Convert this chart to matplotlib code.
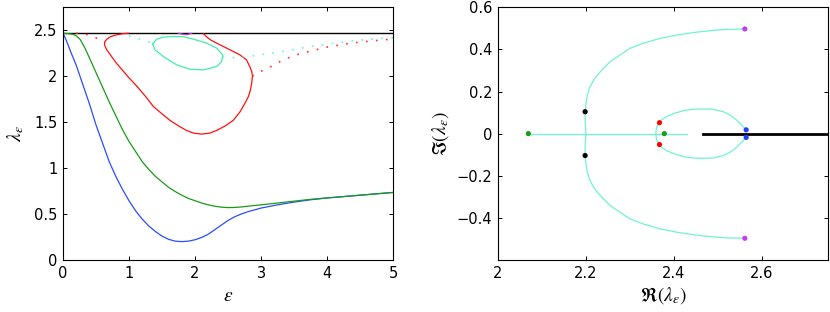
import matplotlib
matplotlib.use('Agg')
import matplotlib.pyplot as plt

plt.rcParams['font.family'] = ['DejaVu Sans']
plt.rcParams['mathtext.fontset'] = 'stix'

# ---- left panel: eigenvalue branches vs eps ----
top_eps = [0, 5]
top_lam = [2.467, 2.467]

blue_eps = [0, 0.05, 0.12, 0.2, 0.3, 0.4, 0.5, 0.6, 0.7, 0.8, 0.9, 1.0, 1.1, 1.2, 1.3, 1.4, 1.5, 1.6,
            1.7, 1.8, 1.9, 2.0, 2.1, 2.2, 2.3, 2.4, 2.5, 2.6, 2.7, 2.8, 2.9, 3.0, 3.25, 3.5, 3.75, 4.0,
            4.25, 4.5, 4.75, 5.0]
blue_lam = [2.467, 2.39, 2.26, 2.12, 1.91, 1.70, 1.47, 1.27, 1.07, 0.91, 0.77, 0.645, 0.535, 0.445,
            0.37, 0.31, 0.26, 0.225, 0.205, 0.20, 0.205, 0.22, 0.245, 0.28, 0.33, 0.38, 0.43, 0.47,
            0.50, 0.525, 0.545, 0.565, 0.60, 0.63, 0.655, 0.675, 0.69, 0.705, 0.72, 0.735]

green_eps = [0, 0.1, 0.15, 0.2, 0.26, 0.33, 0.4, 0.5, 0.6, 0.7, 0.8, 0.9, 1.0, 1.1, 1.2, 1.3, 1.4, 1.5,
             1.6, 1.7, 1.8, 1.9, 2.0, 2.1, 2.2, 2.3, 2.4, 2.5, 2.6, 2.7, 2.8, 3.0, 3.25, 3.5, 3.75, 4.0,
             4.5, 5.0]
green_lam = [2.467, 2.462, 2.455, 2.44, 2.40, 2.31, 2.20, 2.04, 1.88, 1.72, 1.57, 1.42, 1.29, 1.18,
             1.07, 0.985, 0.91, 0.85, 0.79, 0.745, 0.705, 0.67, 0.645, 0.62, 0.60, 0.585, 0.575, 0.57,
             0.572, 0.577, 0.585, 0.60, 0.62, 0.64, 0.66, 0.675, 0.705, 0.735]

red_eps = [0.99, 0.90, 0.81, 0.72, 0.66, 0.63, 0.63, 0.66, 0.73, 0.80, 0.86, 0.99, 1.12, 1.25, 1.37,
           1.50, 1.62, 1.75, 1.87, 1.98, 2.10, 2.22, 2.33, 2.46, 2.58, 2.68, 2.76, 2.81, 2.84, 2.86,
           2.87, 2.86, 2.83, 2.78, 2.68, 2.53, 2.38, 2.25, 2.18, 2.13]
red_lam = [2.467, 2.462, 2.45, 2.43, 2.40, 2.37, 2.34, 2.29, 2.22, 2.15, 2.10, 1.99, 1.89, 1.78, 1.67,
           1.59, 1.52, 1.46, 1.41, 1.38, 1.37, 1.38, 1.41, 1.46, 1.52, 1.61, 1.71, 1.78, 1.85, 1.93,
           2.00, 2.05, 2.105, 2.178, 2.232, 2.287, 2.341, 2.389, 2.425, 2.461]
red_dot_l_eps = [0.2, 0.33, 0.46, 0.55, 0.63]
red_dot_l_lam = [2.467, 2.46, 2.43, 2.40, 2.37]
red_dot_r_eps = [2.87, 2.93, 3.14, 3.34, 3.57, 3.79, 4.02, 4.37, 4.70, 5.0]
red_dot_r_lam = [2.00, 2.03, 2.10, 2.18, 2.24, 2.28, 2.32, 2.36, 2.385, 2.405]

cyan_eps = [1.359, 1.394, 1.419, 1.52, 1.672, 1.823, 1.975, 2.177, 2.328, 2.42, 2.404, 2.328, 2.126,
            1.924, 1.722, 1.52, 1.394, 1.359]
cyan_lam = [2.352, 2.38, 2.403, 2.425, 2.432, 2.429, 2.403, 2.36, 2.305, 2.232, 2.16, 2.105, 2.069,
            2.076, 2.123, 2.214, 2.287, 2.352]
cyan_dot_l_eps = [1.0, 1.14, 1.24, 1.36]
cyan_dot_l_lam = [2.44, 2.41, 2.385, 2.36]
cyan_dot_r_eps = [2.42, 2.56, 2.91, 3.26, 3.72, 4.12, 4.58, 5.0]
cyan_dot_r_lam = [2.21, 2.20, 2.225, 2.26, 2.32, 2.36, 2.40, 2.42]

mag_eps = [1.75, 1.82, 1.88, 1.95]
mag_lam = [2.467, 2.455, 2.452, 2.467]

# ---- right panel: complex plane ----
bigc_re = [2.561, 2.520, 2.482, 2.444, 2.406, 2.368, 2.330, 2.300, 2.277, 2.255, 2.236, 2.220, 2.209,
           2.203, 2.200, 2.198, 2.198, 2.199, 2.200,
           2.199, 2.198, 2.198, 2.200, 2.203, 2.209, 2.220, 2.236, 2.255, 2.277, 2.300, 2.330, 2.368,
           2.406, 2.444, 2.482, 2.520, 2.561]
bigc_im = [0.497, 0.495, 0.489, 0.480, 0.468, 0.452, 0.429, 0.405, 0.373, 0.342, 0.302, 0.263, 0.223,
           0.184, 0.144, 0.104, 0.065, 0.025, 0.0,
           -0.025, -0.065, -0.104, -0.144, -0.184, -0.223, -0.263, -0.302, -0.342, -0.373, -0.405,
           -0.429, -0.452, -0.468, -0.480, -0.489, -0.495, -0.497]

loop_re = [2.564, 2.554, 2.542, 2.527, 2.512, 2.489, 2.467, 2.444, 2.421, 2.402, 2.383, 2.372, 2.367,
           2.361, 2.359, 2.359,
           2.359, 2.361, 2.367, 2.372, 2.383, 2.402, 2.421, 2.444, 2.467, 2.489, 2.512, 2.527, 2.542,
           2.554, 2.564]
loop_im = [0.017, 0.041, 0.065, 0.089, 0.104, 0.116, 0.117, 0.116, 0.109, 0.097, 0.081, 0.065, 0.052,
           0.033, 0.01, 0.0,
           -0.01, -0.033, -0.052, -0.065, -0.081, -0.097, -0.109, -0.116, -0.117, -0.116, -0.104, -0.089,
           -0.065, -0.041, -0.017]

seg_re = [2.069, 2.43]
seg_im = [0, 0]
ess_re = [2.467, 2.75]
ess_im = [0, 0]

pts_re = [2.069, 2.378, 2.198, 2.198, 2.367, 2.367, 2.564, 2.564, 2.561, 2.561]
pts_im = [0, 0, 0.104, -0.104, 0.052, -0.052, 0.018, -0.018, 0.497, -0.497]
pts_col = ['#14a014', '#14a014', 'k', 'k', 'r', 'r', '#2040ff', '#2040ff', '#c040f0', '#c040f0']

CYAN = '#6ff3d2'
DOT = (0, (1, 5))

fig = plt.figure(figsize=(8.3, 3.12), dpi=100)
ax1 = fig.add_axes([0.0759, 0.1667, 0.3976, 0.81])
ax2 = fig.add_axes([0.6, 0.1667, 0.3976, 0.81])

ax1.plot(top_eps, top_lam, color='k', lw=1.0)
ax1.plot(blue_eps, blue_lam, color='#2a4cff', lw=0.9)
ax1.plot(green_eps, green_lam, color='#1a9a1a', lw=0.9)
ax1.plot(red_eps, red_lam, color='#ff1010', lw=0.9)
ax1.plot(red_dot_l_eps, red_dot_l_lam, color='#ff3030', lw=1.2, ls=DOT)
ax1.plot(red_dot_r_eps, red_dot_r_lam, color='#ff3030', lw=1.2, ls=DOT)
ax1.plot(cyan_eps, cyan_lam, color='#40eea8', lw=0.9)
ax1.plot(cyan_dot_l_eps, cyan_dot_l_lam, color=CYAN, lw=1.2, ls=DOT)
ax1.plot(cyan_dot_r_eps, cyan_dot_r_lam, color=CYAN, lw=1.2, ls=DOT)
ax1.plot(mag_eps, mag_lam, color='#c040f0', lw=0.9)
ax1.set_xlim(0, 5)
ax1.set_ylim(0, 2.75)
ax1.set_xticks([0, 1, 2, 3, 4, 5])
ax1.set_yticks([0, 0.5, 1, 1.5, 2, 2.5])
ax1.set_yticklabels(['0', '0.5', '1', '1.5', '2', '2.5'])
ax1.set_xlabel(r'$\varepsilon$', fontsize=14, labelpad=4)
ax1.set_ylabel(r'$\lambda_\varepsilon$', fontsize=14, labelpad=6)

ax2.plot(bigc_re, bigc_im, color=CYAN, lw=0.9)
ax2.plot(loop_re, loop_im, color=CYAN, lw=0.9)
ax2.plot(seg_re, seg_im, color=CYAN, lw=0.9)
ax2.plot(ess_re, ess_im, color='k', lw=2.0)
ax2.scatter(pts_re, pts_im, c=pts_col, s=14, zorder=3, linewidths=0)
ax2.set_xlim(2, 2.75)
ax2.set_ylim(-0.6, 0.6)
ax2.set_xticks([2, 2.2, 2.4, 2.6])
ax2.set_xticklabels(['2', '2.2', '2.4', '2.6'])
ax2.set_yticks([-0.4, -0.2, 0, 0.2, 0.4, 0.6])
ax2.set_yticklabels(['\u22120.4', '\u22120.2', '0', '0.2', '0.4', '0.6'])
ax2.set_xlabel(r'$\Re(\lambda_\varepsilon)$', fontsize=14, labelpad=3)
ax2.set_ylabel(r'$\Im(\lambda_\varepsilon)$', fontsize=14, labelpad=4)

for ax in (ax1, ax2):
    ax.tick_params(direction='in', length=3, width=0.7, top=True, right=True, labelsize=10.5, pad=4)
    for s in ax.spines.values():
        s.set_linewidth(0.8)

fig.savefig('out.png', dpi=100)
